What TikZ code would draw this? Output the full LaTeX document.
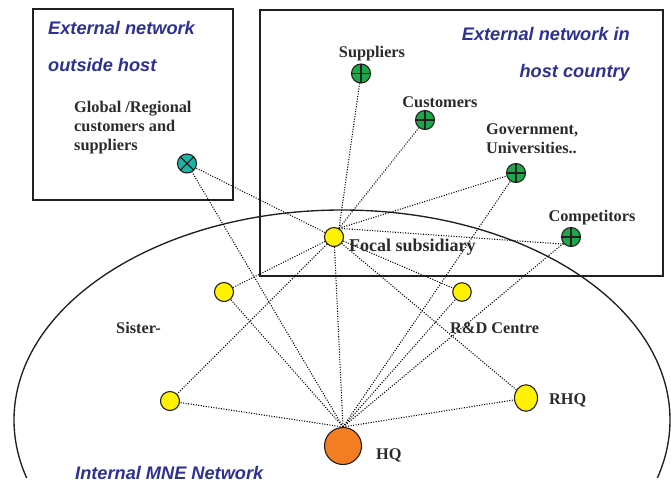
\documentclass[tikz,border=0pt]{standalone}
\usepackage{fontspec}
\setmainfont{Liberation Serif}
\newfontfamily\arialfont{Liberation Sans}
\usetikzlibrary{shapes.geometric}
\definecolor{ttlblue}{HTML}{2E3192}
\definecolor{extgreen}{HTML}{1DA64A}
\definecolor{extteal}{HTML}{1BB5A5}
\definecolor{subyellow}{HTML}{FFF200}
\definecolor{hqorange}{HTML}{F37E22}
\definecolor{inkgray}{HTML}{231F20}
\definecolor{txtgray}{HTML}{2B2B2B}
\pgfdeclarelayer{bg}
\pgfsetlayers{bg,main}
\tikzset{
  ttl/.style={font=\arialfont\bfseries\itshape\fontsize{18.2}{37}\selectfont, text=ttlblue, inner sep=0pt},
  lbl/.style={font=\bfseries\fontsize{16.3}{19}\selectfont, text=txtgray, inner sep=0pt},
  linkline/.style={draw=black, line width=1.05pt, dash pattern=on 1.05pt off 1.5pt},
  frameline/.style={draw=inkgray, line width=1.35pt},
  extnode/.style={circle, draw=inkgray, line width=1.1pt, fill=extgreen, minimum size=19pt, inner sep=0pt,
    path picture={\draw[inkgray, line width=1.1pt]
      (path picture bounding box.north) -- (path picture bounding box.south)
      (path picture bounding box.west) -- (path picture bounding box.east);}},
  globnode/.style={circle, draw=inkgray, line width=1.1pt, fill=extteal, minimum size=19pt, inner sep=0pt,
    path picture={\draw[inkgray, line width=1.1pt]
      (path picture bounding box.north west) -- (path picture bounding box.south east)
      (path picture bounding box.north east) -- (path picture bounding box.south west);}},
  subnode/.style={circle, draw=inkgray, line width=1.1pt, fill=subyellow, minimum size=19pt, inner sep=0pt},
}
\begin{document}
\begin{tikzpicture}[x=1pt, y=-1pt]
\useasboundingbox (0,0) rectangle (671,483);

% nodes
\node[globnode] (glob) at (187,163.5) {};
\node[extnode] (supp) at (361,73.5) {};
\node[extnode] (cust) at (425,120) {};
\node[extnode] (gov) at (516,173) {};
\node[extnode] (comp) at (571,237) {};
\node[subnode] (focal) at (334,237) {};
\node[subnode] (sis1) at (224,292) {};
\node[subnode] (sis2) at (170,401) {};
\node[subnode, minimum size=18.5pt] (rnd) at (462,292) {};
\node[ellipse, draw=inkgray, line width=1.1pt, fill=subyellow, minimum width=23pt, minimum height=26.5pt, inner sep=0pt] (rhq) at (526,398) {};
\node[circle, draw=inkgray, line width=1.1pt, fill=hqorange, minimum size=37pt, inner sep=0pt] (hq) at (343,446) {};

% labels
\node[ttl, align=left, anchor=west] (ttlout) at (48,46.5) {External network\\outside host};
\node[ttl, align=right, anchor=east] (ttlhost) at (630,54) {External network in\\host country};
\node[ttl, anchor=west] (ttlint) at (75,473) {Internal MNE Network};
\node[lbl, align=left, anchor=west] (lglob) at (74,128) {Global /Regional\\customers and\\suppliers};
\node[lbl] (lsupp) at (372,54) {Suppliers};
\node[lbl] (lcust) at (440,102) {Customers};
\node[lbl, align=left, anchor=west] (lgov) at (486,138.5) {Government,\\Universities..};
\node[lbl] (lcomp) at (592,218) {Competitors};
\node[lbl, font=\bfseries\fontsize{18}{20}\selectfont, anchor=west] (lfocal) at (349,247) {Focal subsidiary};
\node[lbl, anchor=west] (lsis) at (116,328) {Sister-};
\node[lbl, anchor=west] (lrnd) at (450,328) {R\&D Centre};
\node[lbl, anchor=west] (lrhq) at (549,400) {RHQ};
\node[lbl, anchor=west] (lhq) at (376,455) {HQ};

\begin{pgfonlayer}{bg}
  \draw[frameline] (33,9) rectangle (233,200);
  \draw[frameline] (260,10) rectangle (663,276);
  \begin{scope}
    \clip (0,0) rectangle (671,477);
    \draw[frameline] (342,420) ellipse [x radius=328, y radius=210];
  \end{scope}
  % focal subsidiary links
  \draw[linkline] (focal) -- (glob);
  \draw[linkline] (focal.60) -- (supp);
  \draw[linkline] (focal.60) -- (cust);
  \draw[linkline] (focal.60) -- (gov);
  \draw[linkline] (focal.60) -- (comp.225);
  \draw[linkline] (focal) -- (sis1);
  \draw[linkline] (focal) -- (sis2);
  \draw[linkline] (focal) -- (rnd);
  \draw[linkline] (focal) -- (rhq);
  \draw[linkline] (focal) -- (hq.north);
  % HQ links
  \draw[linkline] (hq.north) -- (glob);
  \draw[linkline] (hq.north) -- (sis1);
  \draw[linkline] (hq.north) -- (sis2);
  \draw[linkline] (hq.north) -- (gov);
  \draw[linkline] (hq.north) -- (comp);
  \draw[linkline] (hq.north) -- (rnd);
  \draw[linkline] (hq.north) -- (rhq);
\end{pgfonlayer}
\end{tikzpicture}
\end{document}
